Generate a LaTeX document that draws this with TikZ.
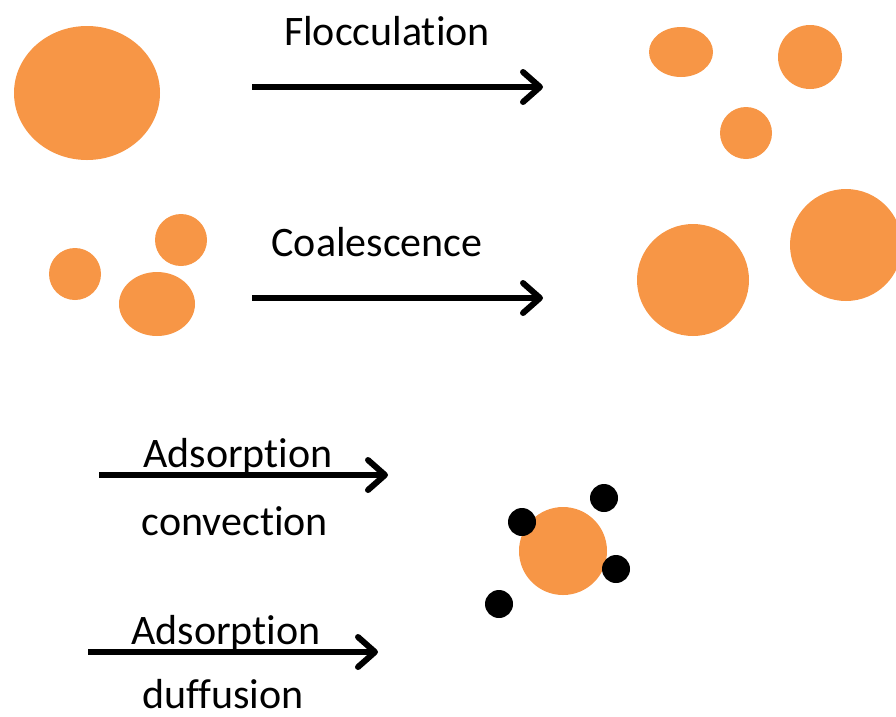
\documentclass[tikz,border=0pt]{standalone}
\usepackage{fontspec}
\setmainfont{Carlito}[Ligatures=NoCommon]
\usetikzlibrary{arrows.meta}
\definecolor{dropcol}{HTML}{F79646}

\begin{document}
\begin{tikzpicture}[x=1pt,y=-1pt,
    drop/.style={fill=dropcol},
    grain/.style={fill=black},
    arr/.style={line width=6pt,-{Straight Barb[length=17pt,width=30pt,round]}},
    lbl/.style={font=\fontsize{42}{48}\selectfont,anchor=base,inner sep=0pt}
    ]
\useasboundingbox (0,0) rectangle (896,716);
% Flocculation
\fill[drop] (87,93) ellipse [x radius=73pt,y radius=67pt];
\coordinate (fl-a) at (252,87);
\coordinate (fl-b) at (543,87);
\draw[arr] (fl-a) -- (fl-b);
\node[lbl] (fl-txt) at (387,45) {Flocculation};
\fill[drop] (681,52) ellipse [x radius=32pt,y radius=25pt];
\fill[drop] (810,57) circle [radius=32pt];
\fill[drop] (746,133) circle [radius=26pt];
% Coalescence
\fill[drop] (75,274) circle [radius=26pt];
\fill[drop] (181,240) circle [radius=26pt];
\fill[drop] (157,304) ellipse [x radius=38pt,y radius=32pt];
\coordinate (co-a) at (252,298);
\coordinate (co-b) at (543,298);
\draw[arr] (co-a) -- (co-b);
\node[lbl] (co-txt) at (377,256) {Coalescence};
\fill[drop] (693,280) circle [radius=56pt];
\fill[drop] (846,245) circle [radius=56pt];
% Adsorption
\coordinate (ac-a) at (99,475);
\coordinate (ac-b) at (388,475);
\draw[arr] (ac-a) -- (ac-b);
\node[lbl] (ac-txt) at (238,467) {Adsorption};
\node[lbl] (ac-sub) at (235,535) {convection};
\coordinate (ad-a) at (88,652);
\coordinate (ad-b) at (378,652);
\draw[arr] (ad-a) -- (ad-b);
\node[lbl] (ad-txt) at (226,644) {Adsorption};
\node[lbl] (ad-sub) at (223,708) {duffusion};
\fill[drop] (563,551) circle [radius=44pt];
\foreach \gx/\gy in {604/498,522/522,616/569,499/604}
  \fill[grain] (\gx,\gy) circle [radius=14pt];
\end{tikzpicture}
\end{document}
